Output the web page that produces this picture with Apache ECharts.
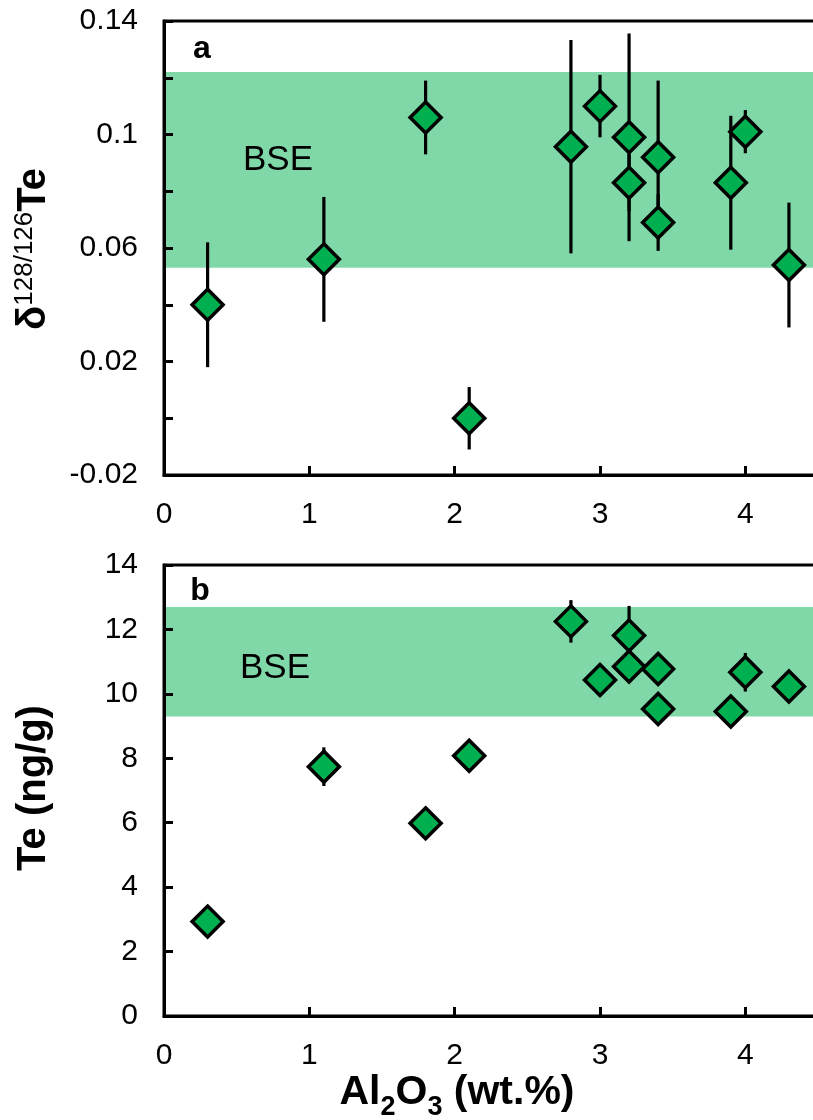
<!DOCTYPE html>
<html>
<head>
<meta charset="utf-8">
<script src="https://cdn.jsdelivr.net/npm/echarts@6/dist/echarts.min.js"></script>
<style>
html,body{margin:0;padding:0;background:#fff;overflow:hidden;}
#chart{width:822px;height:1120px;}
</style>
</head>
<body>
<div id="chart"></div>
<script>
// ---- data ----
const xTickLabels = ['0', '1', '2', '3', '4'];
const topYTickLabels = ['-0.02', '0.02', '0.06', '0.1', '0.14'];
const botYTickLabels = ['0', '2', '4', '6', '8', '10', '12', '14'];

const topX     = [0.3, 1.1, 1.8, 2.1, 2.8, 3.0, 3.2, 3.2, 3.4, 3.4, 3.9, 4.0, 4.3];
const topDelta = [0.040, 0.056, 0.106, 0.000, 0.0957, 0.110, 0.099, 0.083, 0.092, 0.069, 0.083, 0.101, 0.054];
const topErr   = [0.022, 0.022, 0.013, 0.011, 0.0376, 0.011, 0.0366, 0.010, 0.027, 0.010, 0.0236, 0.0076, 0.022];
const topBand  = [0.053, 0.122];

const botX   = [0.3, 1.1, 1.8, 2.1, 2.8, 3.0, 3.2, 3.2, 3.4, 3.4, 3.9, 4.0, 4.3];
const botTe  = [2.93, 7.74, 5.98, 8.08, 12.25, 10.43, 11.81, 10.85, 10.77, 9.53, 9.45, 10.67, 10.23];
const botErr = [0, 0.6, 0, 0, 0.66, 0, 0.92, 0, 0, 0, 0, 0.6, 0];
const botBand = [9.3, 12.7];

const xMin = 0, xMax = 4.5;

// ---- styles ----
const FONT = '"Liberation Sans", Arial, sans-serif';
const GREEN = '#00B050';
const BAND = '#80D7A8';

function fmt(v) { return String(Number(v.toFixed(2))); }

function xAxisCfg(gi) {
  return {
    gridIndex: gi, type: 'value', min: xMin, max: xMax, interval: 1, z: 5,
    axisLine: { onZero: false, lineStyle: { color: '#000', width: 3 } },
    axisTick: { inside: true, length: 9, lineStyle: { color: '#000', width: 3 } },
    axisLabel: {
      color: '#000', fontSize: 30, fontFamily: FONT, margin: 25, showMaxLabel: false,
      formatter: v => xTickLabels.includes(fmt(v)) ? fmt(v) : ''
    },
    splitLine: { show: false }
  };
}
function yAxisCfg(gi, min, max, interval, labels) {
  return {
    gridIndex: gi, type: 'value', min: min, max: max, interval: interval, z: 5,
    axisLine: { onZero: false, lineStyle: { color: '#000', width: 3 } },
    axisTick: { inside: true, length: 9, lineStyle: { color: '#000', width: 3 } },
    axisLabel: {
      color: '#000', fontSize: 30, fontFamily: FONT, margin: 26,
      formatter: v => labels.includes(fmt(v)) ? fmt(v) : ''
    },
    splitLine: { show: false }
  };
}

function bandSeries(gi, band) {
  return {
    type: 'custom', xAxisIndex: gi, yAxisIndex: gi, z: 1, silent: true,
    data: [[band[0], band[1]]],
    renderItem: function (params, api) {
      const p1 = api.coord([xMin, api.value(1)]);
      const p2 = api.coord([xMax, api.value(0)]);
      return { type: 'rect', shape: { x: p1[0], y: p1[1], width: p2[0] - p1[0], height: p2[1] - p1[1] },
               style: { fill: BAND } };
    }
  };
}
function errSeries(gi, xs, ys, es) {
  return {
    type: 'custom', xAxisIndex: gi, yAxisIndex: gi, z: 2, silent: true,
    data: xs.map((x, i) => [x, ys[i], es[i]]),
    renderItem: function (params, api) {
      const x = api.value(0), y = api.value(1), e = api.value(2);
      if (!e) return null;
      const a = api.coord([x, y - e]), b = api.coord([x, y + e]);
      return { type: 'line', shape: { x1: a[0], y1: a[1], x2: b[0], y2: b[1] },
               style: { stroke: '#000', lineWidth: 3.2 } };
    }
  };
}
function pointSeries(gi, xs, ys) {
  return {
    type: 'scatter', xAxisIndex: gi, yAxisIndex: gi, z: 3, silent: true,
    symbol: 'diamond', symbolSize: 31,
    itemStyle: { color: GREEN, borderColor: '#000', borderWidth: 3.5, opacity: 1 },
    data: xs.map((x, i) => [x, ys[i]])
  };
}

const chart = echarts.init(document.getElementById('chart'), null, { renderer: 'canvas' });
chart.setOption({
  animation: false,
  backgroundColor: '#fff',
  grid: [
    { left: 164, top: 21, width: 654, height: 454, show: true, borderColor: '#000', borderWidth: 3, backgroundColor: 'transparent' },
    { left: 164, top: 565, width: 654, height: 451, show: true, borderColor: '#000', borderWidth: 3, backgroundColor: 'transparent' }
  ],
  xAxis: [xAxisCfg(0), xAxisCfg(1)],
  yAxis: [
    yAxisCfg(0, -0.02, 0.14, 0.02, topYTickLabels),
    yAxisCfg(1, 0, 14, 2, botYTickLabels)
  ],
  series: [
    bandSeries(0, topBand), errSeries(0, topX, topDelta, topErr), pointSeries(0, topX, topDelta),
    bandSeries(1, botBand), errSeries(1, botX, botTe, botErr), pointSeries(1, botX, botTe)
  ],
  graphic: [
    { type: 'text', x: 202, y: 49, z: 10, style: { text: 'a', font: 'bold 32px ' + FONT, fill: '#000', align: 'center', verticalAlign: 'middle' } },
    { type: 'text', x: 200, y: 591, z: 10, style: { text: 'b', font: 'bold 32px ' + FONT, fill: '#000', align: 'center', verticalAlign: 'middle' } },
    { type: 'text', x: 278, y: 160, z: 10, style: { text: 'BSE', font: '35px ' + FONT, fill: '#000', align: 'center', verticalAlign: 'middle' } },
    { type: 'text', x: 275, y: 668, z: 10, style: { text: 'BSE', font: '35px ' + FONT, fill: '#000', align: 'center', verticalAlign: 'middle' } },
    { type: 'text', x: 34, y: 249, rotation: Math.PI / 2, z: 10,
      style: { text: '{b|δ}{s|128/126}{b|Te}', align: 'center', verticalAlign: 'middle',
        rich: {
          b: { fontSize: 40, fontWeight: 'bold', fontFamily: FONT, lineHeight: 44, fill: '#000', color: '#000' },
          s: { fontSize: 26, fontFamily: FONT, lineHeight: 40, verticalAlign: 'top', fill: '#000', color: '#000' }
        } } },
    { type: 'text', x: 34, y: 788, rotation: Math.PI / 2, z: 10,
      style: { text: 'Te (ng/g)', font: 'bold 40px ' + FONT, fill: '#000', align: 'center', verticalAlign: 'middle' } },
    { type: 'text', x: 457, y: 1093, z: 10,
      style: { text: '{b|Al}{u|2}{b|O}{u|3}{b| (wt.%)}', align: 'center', verticalAlign: 'middle',
        rich: {
          b: { fontSize: 41, fontWeight: 'bold', fontFamily: FONT, lineHeight: 56, fill: '#000', color: '#000' },
          u: { fontSize: 27, fontWeight: 'bold', fontFamily: FONT, lineHeight: 27, verticalAlign: 'bottom', fill: '#000', color: '#000' }
        } } }
  ]
});
</script>
</body>
</html>
